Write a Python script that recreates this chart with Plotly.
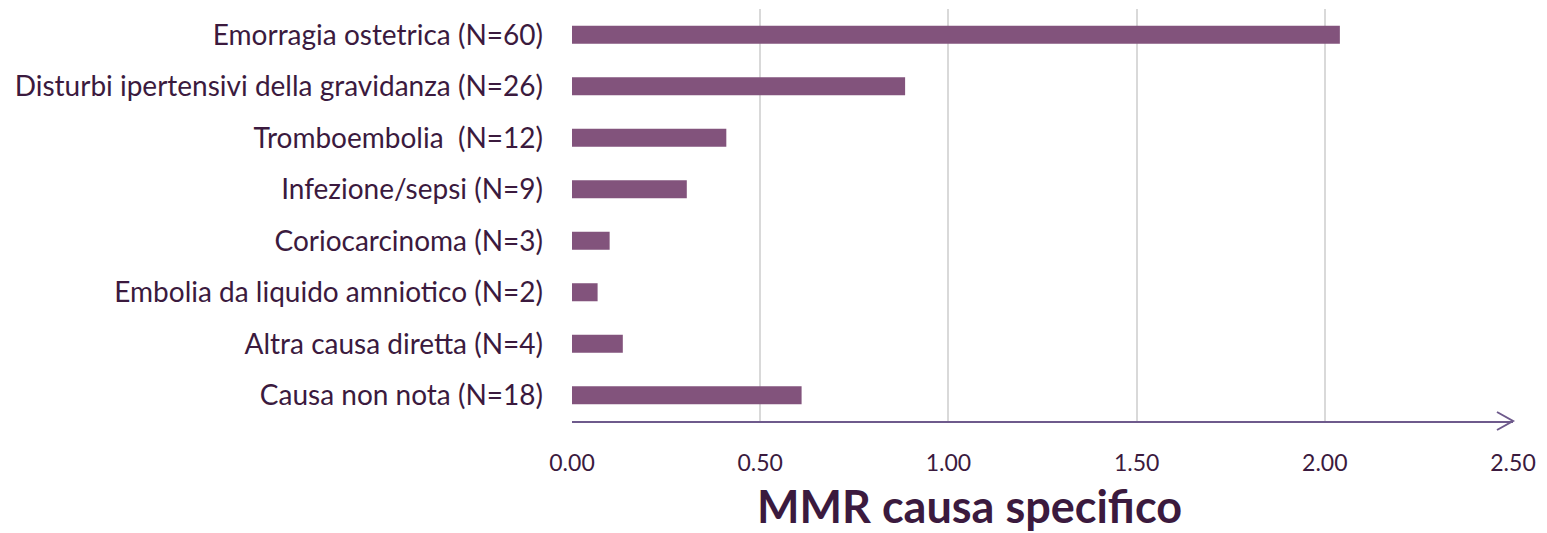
import plotly.graph_objects as go

categories = [
    "Emorragia ostetrica (N=60)",
    "Disturbi ipertensivi della gravidanza (N=26)",
    "Tromboembolia  (N=12)",
    "Infezione/sepsi (N=9)",
    "Coriocarcinoma (N=3)",
    "Embolia da liquido amniotico (N=2)",
    "Altra causa diretta (N=4)",
    "Causa non nota (N=18)",
]
mmr = [2.04, 0.885, 0.41, 0.305, 0.10, 0.068, 0.135, 0.61]
tick_vals = [0, 0.5, 1.0, 1.5, 2.0, 2.5]
tick_text = ["0.00", "0.50", "1.00", "1.50", "2.00", "2.50"]
axis_title = "MMR causa specifico"

TEXT = "#3b1a3e"
BAR = "#82537c"
AXIS = "#6e5a8c"
FONT = "Lato"

fig = go.Figure(go.Bar(
    y=categories, x=mmr, orientation="h",
    marker=dict(color=BAR, line=dict(width=0)),
))

fig.update_layout(
    width=1547, height=533,
    margin=dict(l=564, r=42, t=1, b=120),
    plot_bgcolor="white", paper_bgcolor="white",
    bargap=0.65,
    showlegend=False,
    font=dict(family=FONT, color=TEXT),
    xaxis=dict(
        range=[0, 2.5], tickvals=tick_vals, ticktext=tick_text,
        showgrid=True, gridcolor="#d9d9d9", gridwidth=1.5,
        zeroline=False, showline=True, linecolor=AXIS, linewidth=2,
        ticks="", ticklabelstandoff=20,
        tickfont=dict(size=23, color=TEXT, family=FONT),
    ),
    yaxis=dict(
        categoryorder="array", categoryarray=categories, autorange="reversed",
        showgrid=False, zeroline=False, showline=False, ticks="",
        ticklabelstandoff=28,
        tickfont=dict(size=28, color=TEXT, family=FONT),
    ),
    shapes=[dict(
        type="path", xref="x domain", yref="y domain",
        xsizemode="pixel", ysizemode="pixel", xanchor=1, yanchor=0,
        path="M -16 -9 L 0 0 L -16 9",
        line=dict(color=AXIS, width=2),
    )],
    annotations=[dict(
        text="<b>" + axis_title + "</b>", xref="paper", yref="paper",
        x=0.422, y=-0.206, xanchor="center", yanchor="middle",
        showarrow=False, font=dict(size=45, color=TEXT, family=FONT),
    )],
)

fig.write_html("out.html")
